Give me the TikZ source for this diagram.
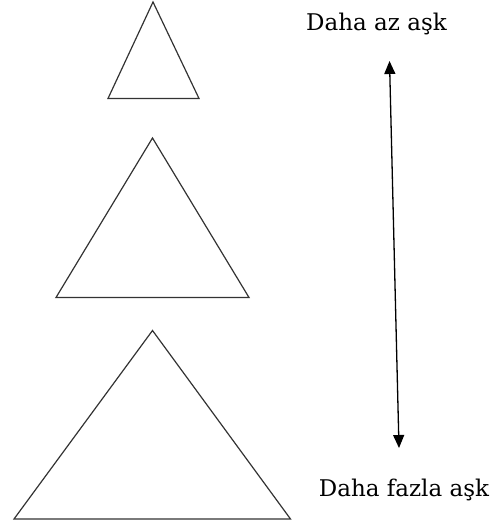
\documentclass[tikz,border=0pt]{standalone}
\usepackage{fontspec}
\setmainfont{DejaVu Serif}
\usetikzlibrary{arrows.meta}
\tikzset{
  level/.style={draw=black!80, line width=1.2pt, line join=miter},
  label/.style={font=\fontsize{23}{27}\selectfont, anchor=base, inner sep=0pt},
  scale arrow/.style={{Triangle[length=13pt, width=11pt]}-{Triangle[length=13pt, width=11pt]}, line width=1.3pt},
}
\begin{document}
\begin{tikzpicture}[x=1pt, y=-1pt]
  \useasboundingbox (0,0) rectangle (497,526);
  % three levels, smallest on top
  \draw[level] (153,2) -- (199,98.5) -- (108,98.5) -- cycle;
  \draw[level] (152.5,138) -- (249,297.5) -- (56,297.5) -- cycle;
  \draw[level] (152.5,330.5) -- (290.5,519) -- (14,519) -- cycle;
  % labels and scale arrow
  \node[label] (less) at (376.5,30.5) {Daha az aşk};
  \node[label] (more) at (404,496) {Daha fazla aşk};
  \coordinate (top) at (389.5,61);
  \coordinate (bottom) at (399,448);
  \draw[scale arrow] (top) -- (bottom);
\end{tikzpicture}
\end{document}
